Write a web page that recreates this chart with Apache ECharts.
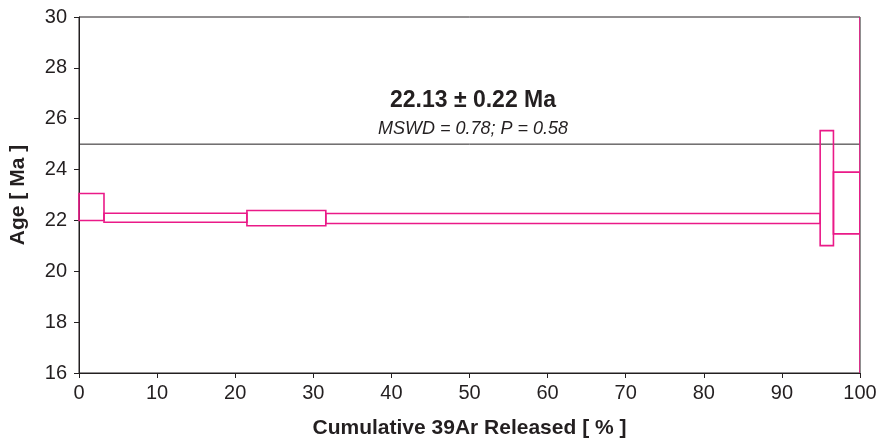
<!DOCTYPE html>
<html><head><meta charset="utf-8">
<script src="https://cdn.jsdelivr.net/npm/echarts@6/dist/echarts.min.js"></script>
<style>html,body{margin:0;padding:0;background:#fff}#c{width:881px;height:444px}</style>
</head><body><div id="c"></div>
<script>
// Step heating data: cumulative % start, end, age low, age high (Ma)
var stepStart = [0, 3.2, 21.5, 31.6, 94.9, 96.6, 100];
var stepEnd   = [3.2, 21.5, 31.6, 94.9, 96.6, 100, 100];
var ageLow    = [22.0, 21.93, 21.79, 21.88, 21.01, 21.47, 16];
var ageHigh   = [23.06, 22.28, 22.39, 22.27, 25.53, 23.90, 30];
var refLineAge = 25;
var titleText = '22.13 \u00b1 0.22 Ma';
var subText = 'MSWD = 0.78; P = 0.58';

var steps = stepStart.map(function(s, i){ return [s, stepEnd[i], ageLow[i], ageHigh[i]]; });
var MAG = '#ea1a88';
var TXT = '#231f20';
var chart = echarts.init(document.getElementById('c'));
chart.setOption({
  animation: false,
  textStyle: {fontFamily: 'Liberation Sans, Arial, sans-serif'},
  title: [
    {text: titleText, left: 468, top: 84, textAlign: 'center',
     textStyle: {fontSize: 23, fontWeight: 'bold', color: TXT, fontFamily: 'Liberation Sans'}},
    {text: subText, left: 468, top: 115, textAlign: 'center',
     textStyle: {fontSize: 18, fontStyle: 'italic', fontWeight: 'normal', color: TXT, fontFamily: 'Liberation Sans'}}
  ],
  grid: {left: 78, right: 21, top: 17, bottom: 66, show: true, borderColor: TXT, borderWidth: 1, backgroundColor: '#fff'},
  xAxis: {
    type: 'value', min: 0, max: 100, interval: 10,
    name: 'Cumulative 39Ar Released [ % ]', nameLocation: 'middle', nameGap: 45,
    nameTextStyle: {fontSize: 21, fontWeight: 'bold', color: TXT},
    axisLine: {show: true, lineStyle: {color: TXT, width: 1}},
    axisTick: {show: true, length: 5, inside: false, lineStyle: {color: TXT}},
    axisLabel: {fontSize: 20, color: TXT, margin: 10},
    splitLine: {show: false}
  },
  yAxis: {
    type: 'value', min: 16, max: 30, interval: 2,
    name: 'Age [ Ma ]', nameLocation: 'middle', nameGap: 50,
    nameTextStyle: {fontSize: 21, fontWeight: 'bold', color: TXT},
    axisLine: {show: true, lineStyle: {color: TXT, width: 1}},
    axisTick: {show: true, length: 5, inside: false, lineStyle: {color: TXT}},
    axisLabel: {fontSize: 20, color: TXT, margin: 12},
    splitLine: {show: false}
  },
  series: [
    {
      type: 'line', data: [[0, refLineAge], [100, refLineAge]], symbol: 'none',
      lineStyle: {color: TXT, width: 1}, z: 2, silent: true
    },
    {
      type: 'custom', data: steps, z: 3, clip: true,
      encode: {x: [0, 1], y: [2, 3]},
      renderItem: function(params, api){
        var p1 = api.coord([api.value(0), api.value(3)]);
        var p2 = api.coord([api.value(1), api.value(2)]);
        return {type: 'rect', shape: {x: p1[0], y: p1[1], width: p2[0]-p1[0], height: p2[1]-p1[1]},
          style: {fill: 'none', stroke: MAG, lineWidth: 1.6}};
      }
    }
  ]
});
</script></body></html>
